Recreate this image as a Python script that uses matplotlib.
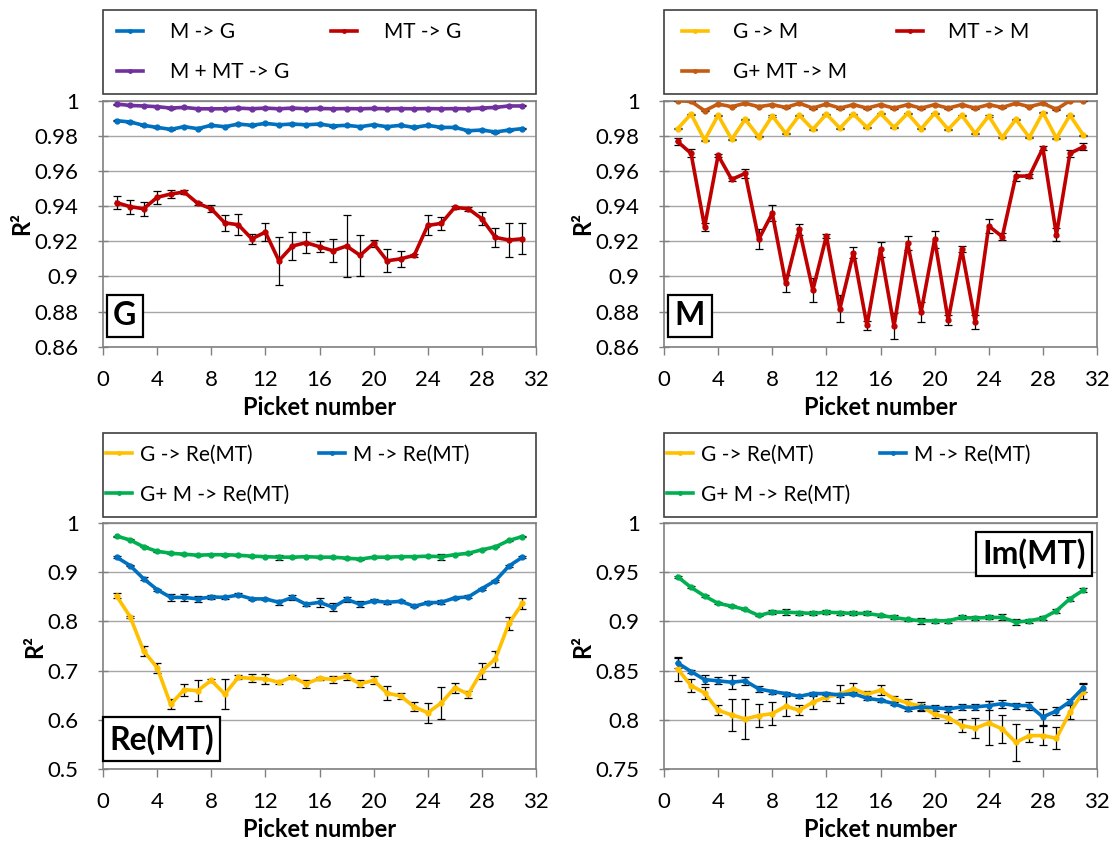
import matplotlib
matplotlib.use('Agg')
import matplotlib.pyplot as plt
from matplotlib.lines import Line2D
from matplotlib.patches import Rectangle

plt.rcParams['font.family'] = ['Lato', 'DejaVu Sans']

pickets = list(range(1, 32))

# panel G
g_m = [0.9886, 0.9879, 0.9860, 0.9848, 0.9837, 0.9852, 0.9841, 0.9860, 0.9852, 0.9867,
       0.9860, 0.9871, 0.9863, 0.9867, 0.9863, 0.9867, 0.9856, 0.9860, 0.9852, 0.9863,
       0.9852, 0.9860, 0.9848, 0.9860, 0.9848, 0.9848, 0.9829, 0.9833, 0.9822, 0.9833, 0.9841]
g_mt = [0.9420, 0.9397, 0.9385, 0.9450, 0.9469, 0.9480, 0.9416, 0.9385, 0.9305, 0.9294,
        0.9214, 0.9252, 0.9089, 0.9173, 0.9192, 0.9169, 0.9146, 0.9173, 0.9120, 0.9188,
        0.9089, 0.9100, 0.9120, 0.9290, 0.9302, 0.9393, 0.9385, 0.9328, 0.9222, 0.9207, 0.9214]
g_mt_err = [0.0038, 0.0040, 0.0040, 0.0036, 0.0023, 0.0010, 0.0010, 0.0020, 0.0046, 0.0060,
            0.0027, 0.0050, 0.0137, 0.0080, 0.0060, 0.0032, 0.0065, 0.0176, 0.0118, 0.0020,
            0.0065, 0.0047, 0.0010, 0.0057, 0.0038, 0.0010, 0.0010, 0.0036, 0.0053, 0.0097, 0.0089]
g_mmt = [0.9981, 0.9973, 0.9970, 0.9966, 0.9958, 0.9962, 0.9954, 0.9954, 0.9954, 0.9958,
         0.9954, 0.9958, 0.9954, 0.9958, 0.9954, 0.9956, 0.9954, 0.9955, 0.9954, 0.9956,
         0.9954, 0.9955, 0.9954, 0.9955, 0.9954, 0.9955, 0.9954, 0.9958, 0.9962, 0.9970, 0.9970]

# panel M
m_g = [0.9840, 0.9924, 0.9776, 0.9917, 0.9780, 0.9894, 0.9795, 0.9913, 0.9814, 0.9917,
       0.9837, 0.9924, 0.9844, 0.9924, 0.9848, 0.9928, 0.9848, 0.9928, 0.9840, 0.9928,
       0.9837, 0.9917, 0.9814, 0.9913, 0.9791, 0.9894, 0.9791, 0.9932, 0.9787, 0.9917, 0.9803]
m_mt = [0.9768, 0.9700, 0.9283, 0.9689, 0.9552, 0.9586, 0.9211, 0.9359, 0.8960, 0.9268,
        0.8922, 0.9230, 0.8816, 0.9135, 0.8721, 0.9154, 0.8717, 0.9192, 0.8797, 0.9211,
        0.8751, 0.9154, 0.8740, 0.9287, 0.9226, 0.9571, 0.9571, 0.9730, 0.9237, 0.9700, 0.9738]
m_mt_err = [0.0020, 0.0023, 0.0023, 0.0010, 0.0010, 0.0025, 0.0057, 0.0046, 0.0047, 0.0030,
            0.0070, 0.0010, 0.0076, 0.0032, 0.0028, 0.0042, 0.0076, 0.0040, 0.0059, 0.0047,
            0.0030, 0.0017, 0.0042, 0.0040, 0.0019, 0.0027, 0.0010, 0.0013, 0.0038, 0.0019, 0.0020]
m_gmt = [1.0000, 0.9996, 0.9943, 0.9981, 0.9966, 0.9985, 0.9966, 0.9977, 0.9962, 0.9985,
         0.9958, 0.9981, 0.9958, 0.9977, 0.9958, 0.9977, 0.9958, 0.9977, 0.9958, 0.9977,
         0.9958, 0.9977, 0.9958, 0.9977, 0.9962, 0.9985, 0.9966, 0.9985, 0.9951, 1.0000, 1.0000]

# panel Re(MT)
re_g = [0.852, 0.810, 0.740, 0.706, 0.631, 0.661, 0.659, 0.680, 0.652, 0.686,
        0.684, 0.683, 0.676, 0.687, 0.673, 0.684, 0.682, 0.688, 0.673, 0.680,
        0.654, 0.648, 0.626, 0.614, 0.634, 0.665, 0.652, 0.699, 0.724, 0.796, 0.837]
re_g_err = [0.005, 0.002, 0.011, 0.010, 0.010, 0.012, 0.022, 0.003, 0.030, 0.004,
            0.008, 0.010, 0.003, 0.003, 0.008, 0.003, 0.007, 0.007, 0.007, 0.008,
            0.015, 0.007, 0.009, 0.020, 0.032, 0.010, 0.007, 0.016, 0.016, 0.014, 0.011]
re_m = [0.931, 0.914, 0.887, 0.865, 0.849, 0.849, 0.846, 0.850, 0.849, 0.854,
        0.846, 0.846, 0.839, 0.849, 0.835, 0.839, 0.829, 0.845, 0.835, 0.842,
        0.839, 0.841, 0.831, 0.838, 0.839, 0.848, 0.850, 0.867, 0.883, 0.913, 0.931]
re_m_err = [0.002, 0.002, 0.003, 0.002, 0.007, 0.007, 0.006, 0.004, 0.003, 0.003,
            0.002, 0.002, 0.005, 0.005, 0.003, 0.009, 0.008, 0.005, 0.006, 0.003,
            0.003, 0.002, 0.002, 0.003, 0.004, 0.002, 0.003, 0.002, 0.002, 0.003, 0.002]
re_gm = [0.974, 0.966, 0.952, 0.943, 0.939, 0.937, 0.935, 0.936, 0.936, 0.935,
         0.933, 0.932, 0.931, 0.931, 0.932, 0.931, 0.931, 0.929, 0.927, 0.931,
         0.931, 0.932, 0.932, 0.933, 0.932, 0.936, 0.939, 0.946, 0.952, 0.965, 0.973]
re_gm_err = [0.001, 0.001, 0.001, 0.001, 0.001, 0.001, 0.001, 0.001, 0.002, 0.001,
             0.001, 0.001, 0.005, 0.001, 0.001, 0.001, 0.001, 0.001, 0.001, 0.001,
             0.001, 0.001, 0.001, 0.001, 0.006, 0.001, 0.001, 0.001, 0.001, 0.001, 0.001]

# panel Im(MT)
im_g = [0.8517, 0.8347, 0.8272, 0.8095, 0.8048, 0.8007, 0.8041, 0.8061, 0.8136, 0.8095,
        0.8177, 0.8231, 0.8259, 0.8313, 0.8259, 0.8299, 0.8211, 0.8170, 0.8136, 0.8054,
        0.8020, 0.7939, 0.7912, 0.7966, 0.7905, 0.7769, 0.7837, 0.7837, 0.7810, 0.8075, 0.8286]
im_g_err = [0.0126, 0.0065, 0.0058, 0.0050, 0.0160, 0.0200, 0.0116, 0.0120, 0.0100, 0.0050,
            0.0070, 0.0040, 0.0090, 0.0060, 0.0030, 0.0050, 0.0030, 0.0040, 0.0048, 0.0034,
            0.0055, 0.0070, 0.0100, 0.0220, 0.0140, 0.0190, 0.0070, 0.0095, 0.0110, 0.0070, 0.0080]
im_m = [0.8578, 0.8490, 0.8408, 0.8395, 0.8381, 0.8395, 0.8313, 0.8286, 0.8265, 0.8238,
        0.8265, 0.8265, 0.8252, 0.8265, 0.8218, 0.8197, 0.8163, 0.8109, 0.8129, 0.8122,
        0.8109, 0.8129, 0.8129, 0.8143, 0.8163, 0.8143, 0.8143, 0.8027, 0.8088, 0.8184, 0.8327]
im_m_err = [0.0048, 0.0015, 0.0050, 0.0037, 0.0070, 0.0040, 0.0027, 0.0020, 0.0020, 0.0015,
            0.0020, 0.0015, 0.0020, 0.0015, 0.0020, 0.0015, 0.0015, 0.0020, 0.0030, 0.0030,
            0.0030, 0.0030, 0.0030, 0.0044, 0.0040, 0.0030, 0.0040, 0.0085, 0.0040, 0.0030, 0.0044]
im_gm = [0.9456, 0.9347, 0.9259, 0.9184, 0.9156, 0.9122, 0.9061, 0.9095, 0.9095, 0.9088,
         0.9082, 0.9095, 0.9088, 0.9082, 0.9082, 0.9061, 0.9041, 0.9020, 0.9007, 0.9007,
         0.9007, 0.9041, 0.9034, 0.9041, 0.9041, 0.8993, 0.9007, 0.9034, 0.9109, 0.9231, 0.9320]
im_gm_err = [0.001, 0.001, 0.001, 0.001, 0.001, 0.001, 0.001, 0.002, 0.003, 0.002,
             0.002, 0.002, 0.002, 0.002, 0.002, 0.002, 0.002, 0.002, 0.003, 0.002,
             0.002, 0.002, 0.002, 0.002, 0.003, 0.003, 0.002, 0.002, 0.002, 0.002, 0.002]

BLUE = '#0070C0'
RED = '#C00000'
PURPLE = '#7030A0'
YELLOW = '#FFC000'
ORANGE = '#C55A11'
GREEN = '#00B050'

W, H = 1116, 843
fig = plt.figure(figsize=(W / 100, H / 100), dpi=100)


def make_axes(x0, x1, ytop, ybot):
    return fig.add_axes([x0 / W, 1 - ybot / H, (x1 - x0) / W, (ybot - ytop) / H])


def draw(ax, series, ylim, yticks, ylabels, tag, tag_xy, leg_x, text_pad, col_gap):
    for vals, err, color, label in series:
        ax.errorbar(pickets, vals, yerr=err, fmt='none', ecolor='black',
                    elinewidth=0.9, capsize=3, capthick=0.9, zorder=3)
        ax.plot(pickets, vals, color=color, lw=2.6, marker='o', ms=3.5,
                zorder=4)
    ax.set_xlim(0, 32)
    ax.set_ylim(*ylim)
    ax.set_xticks(range(0, 33, 4))
    ax.set_yticks(yticks)
    ax.set_yticklabels(ylabels)
    ax.tick_params(axis='both', labelsize=16, color='#808080', width=1)
    ax.tick_params(axis='x', direction='out', length=6, pad=11)
    ax.tick_params(axis='y', direction='inout', length=7, pad=14)
    ax.grid(axis='y', color='#A6A6A6', lw=1)
    ax.set_axisbelow(True)
    for s in ax.spines.values():
        s.set_color('#808080')
        s.set_linewidth(1.2)
    ax.set_xlabel('Picket number', fontsize=17, fontweight='bold', labelpad=4)
    ax.set_ylabel('R²', fontsize=17, fontweight='bold', labelpad=1)
    ax.text(tag_xy[0], tag_xy[1], tag, transform=ax.transAxes, fontsize=23,
            fontweight='bold', va='center', ha='center', zorder=6,
            bbox=dict(boxstyle='square,pad=0.2', fc='white', ec='black', lw=1.6))
    # row-wise legend order: first, third | second
    order = [0, 2, 1]
    handles = [Line2D([], [], color=series[i][2], lw=2.6, marker='o', ms=2.5)
               for i in order]
    labels = [series[i][3] for i in order]
    h = ax.get_position().height * H
    ax.legend(handles, labels, ncol=2, loc='center left',
              bbox_to_anchor=(leg_x, 1 + 48.7 / h),
              borderaxespad=0, borderpad=0, fontsize=15, frameon=False,
              handlelength=1.25, handletextpad=text_pad, labelspacing=0.95,
              columnspacing=col_gap)
    # legend box: full axes width, 84 px tall, 6 px above the plot area
    pos = ax.get_position()
    fig.patches.append(Rectangle((pos.x0, pos.y1 + 6.3 / H), pos.width, 84 / H,
                                 transform=fig.transFigure, fill=False,
                                 ec='#404040', lw=1.2))


ax1 = make_axes(103, 536, 100.7, 346.7)
draw(ax1, [(g_m, 0.0004, BLUE, 'M -> G'), (g_mt, g_mt_err, RED, 'MT -> G'),
           (g_mmt, 0.0003, PURPLE, 'M + MT -> G')],
     (0.86, 1.0), [0.86, 0.88, 0.9, 0.92, 0.94, 0.96, 0.98, 1.0],
     ['0.86', '0.88', '0.9', '0.92', '0.94', '0.96', '0.98', '1'],
     'G', (0.05, 0.125), 14 / 433, 1.3, 2.0)

ax2 = make_axes(664, 1097, 100.7, 346.7)
draw(ax2, [(m_g, 0.0003, YELLOW, 'G -> M'), (m_mt, m_mt_err, RED, 'MT -> M'),
           (m_gmt, 0.0003, ORANGE, 'G+ MT -> M')],
     (0.86, 1.0), [0.86, 0.88, 0.9, 0.92, 0.94, 0.96, 0.98, 1.0],
     ['0.86', '0.88', '0.9', '0.92', '0.94', '0.96', '0.98', '1'],
     'M', (0.06, 0.125), 18 / 433, 1.2, 2.4)

ax3 = make_axes(103, 536, 523.3, 768.7)
draw(ax3, [(re_g, re_g_err, YELLOW, 'G -> Re(MT)'), (re_m, re_m_err, BLUE, 'M -> Re(MT)'),
           (re_gm, re_gm_err, GREEN, 'G+ M -> Re(MT)')],
     (0.5, 1.0), [0.5, 0.6, 0.7, 0.8, 0.9, 1.0],
     ['0.5', '0.6', '0.7', '0.8', '0.9', '1'],
     'Re(MT)', (0.135, 0.12), 3 / 433, 0.4, 1.4)

ax4 = make_axes(664, 1097, 523.3, 768.7)
draw(ax4, [(im_g, im_g_err, YELLOW, 'G -> Re(MT)'), (im_m, im_m_err, BLUE, 'M -> Re(MT)'),
           (im_gm, im_gm_err, GREEN, 'G+ M -> Re(MT)')],
     (0.75, 1.0), [0.75, 0.8, 0.85, 0.9, 0.95, 1.0],
     ['0.75', '0.8', '0.85', '0.9', '0.95', '1'],
     'Im(MT)', (0.855, 0.875), 3 / 433, 0.4, 1.4)

fig.savefig('out.png', dpi=100)
plt.close(fig)
